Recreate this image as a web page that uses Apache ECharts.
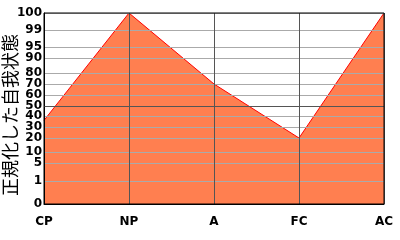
<!DOCTYPE html>
<html><head><meta charset="utf-8">
<script src="https://cdn.jsdelivr.net/npm/echarts@6/dist/echarts.min.js"></script>
<style>html,body{margin:0;padding:0;background:#fff}#c{width:400px;height:240px}</style>
</head><body><div id="c"></div>
<script>
// categories and values (percentile of normalized ego state)
const categories = ['CP', 'NP', 'A', 'FC', 'AC'];
const values = [36, 100, 70, 20, 100];
// y tick labels (percentiles) and the nonlinear scale they are drawn on
const tickLabels = [0, 1, 5, 10, 20, 30, 40, 50, 60, 70, 80, 90, 95, 99, 100];
const tickScale = [0, 23, 41, 52, 66, 77, 88, 98, 109, 120, 131, 146, 157, 174, 191];
const axisName = '正規化した自我状態';

function toScale(p) {
  for (let i = 0; i < tickLabels.length - 1; i++) {
    const a = tickLabels[i], b = tickLabels[i + 1];
    if (p >= a && p <= b) return tickScale[i] + (p - a) / (b - a) * (tickScale[i + 1] - tickScale[i]);
  }
  return p <= 0 ? tickScale[0] : tickScale[tickScale.length - 1];
}
const scaleToLabel = {};
tickScale.forEach((s, i) => { scaleToLabel[s] = tickLabels[i]; });

const chart = echarts.init(document.getElementById('c'), null, {renderer: 'canvas'});
chart.setOption({
  animation: false,
  backgroundColor: '#fff',
  grid: {left: 44, right: 16, top: 13, bottom: 36, containLabel: false, outerBoundsMode: 'none',
    show: true, borderColor: '#000', borderWidth: 1, backgroundColor: 'transparent', z: 10},
  xAxis: {
    type: 'category', data: categories, boundaryGap: false, z: 3,
    axisLine: {show: true, lineStyle: {color: '#000', width: 1}},
    axisTick: {show: false},
    axisLabel: {color: '#000', fontFamily: 'DejaVu Sans', fontWeight: 'bold', fontSize: 12, margin: 12},
    splitLine: {show: true, lineStyle: {color: '#555', width: 1}}
  },
  yAxis: {
    type: 'value', min: 0, max: tickScale[tickScale.length - 1], z: 3,
    name: axisName, nameLocation: 'middle', nameRotate: 90, nameGap: 25, nameMoveOverlap: false,
    nameTextStyle: {color: '#000', fontFamily: 'Noto Sans CJK JP', fontSize: 18, padding: [0, 13, 0, 0]},
    axisLine: {show: true, lineStyle: {color: '#000', width: 1}},
    axisTick: {show: false, customValues: tickScale},
    axisLabel: {customValues: tickScale, color: '#000', fontFamily: 'DejaVu Sans', fontWeight: 'bold', fontSize: 12, margin: 2,
      formatter: v => String(scaleToLabel[Math.round(v)] ?? '')},
    splitLine: {show: true, customValues: tickScale, lineStyle: {color: '#aaa', width: 1}}
  },
  series: [{
    type: 'line', data: values.map(toScale), symbol: 'none', z: 2,
    lineStyle: {color: '#ff0000', width: 1},
    areaStyle: {color: '#ff7f50', opacity: 1},
    markLine: {silent: true, symbol: 'none', label: {show: false}, z: 5,
      lineStyle: {color: '#555', type: 'solid', width: 1},
      data: [{yAxis: toScale(50)}]}
  }]
});
</script></body></html>
